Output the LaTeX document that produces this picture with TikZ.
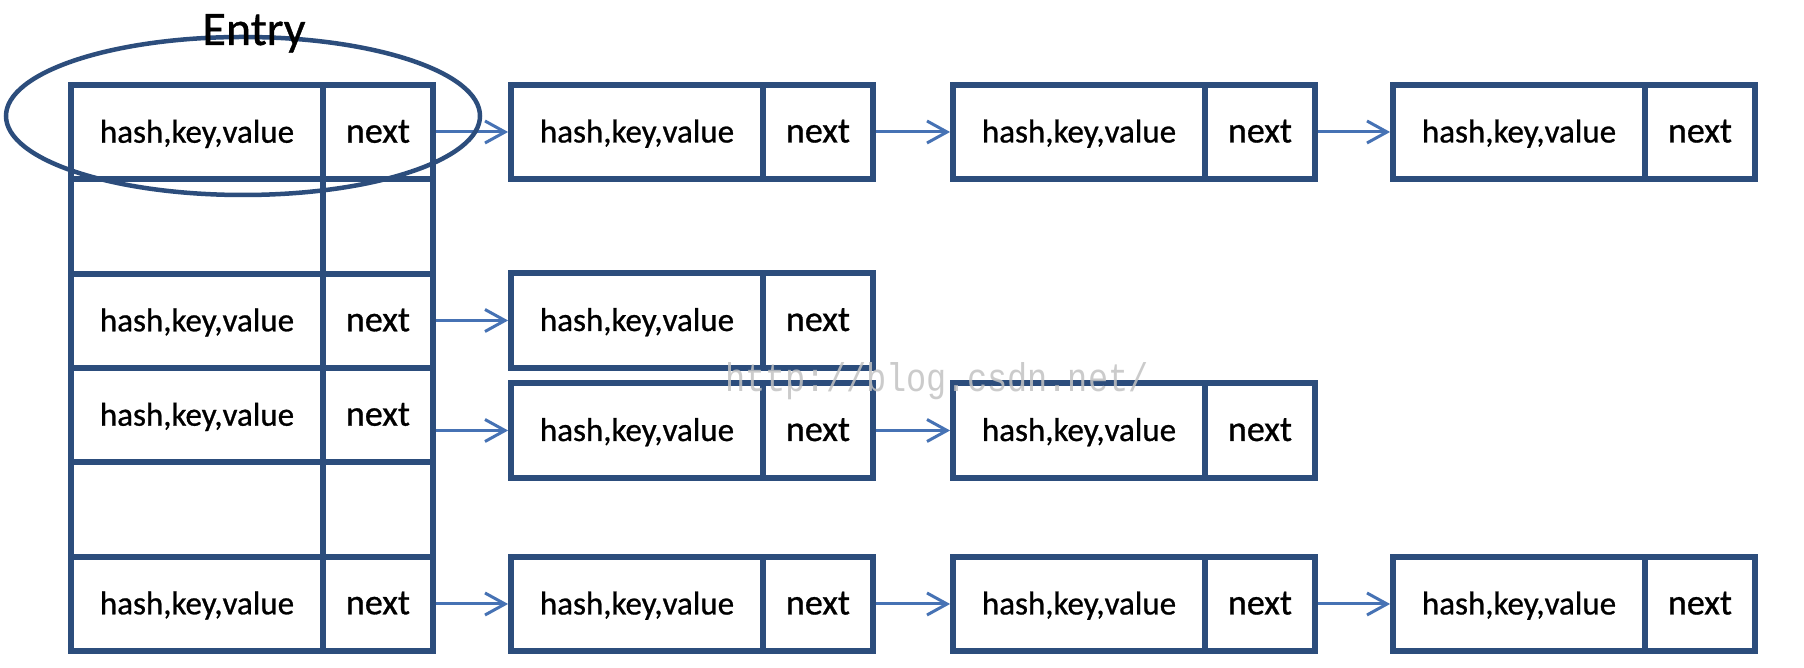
\documentclass[tikz,border=0pt]{standalone}
\usepackage{fontspec}
\setmainfont{Carlito}[FakeBold=0.8]
\newfontfamily\wmfont{Liberation Mono}
\usetikzlibrary{arrows.meta,shapes.geometric}
\definecolor{boxblue}{RGB}{44,77,124}
\definecolor{arrblue}{RGB}{70,114,180}
\definecolor{wmgray}{RGB}{195,195,195}
\begin{document}
\begin{tikzpicture}[x=1pt,y=1pt,
  cell/.style={draw=boxblue, line width=5.8pt, inner sep=0pt, minimum height=94.3pt, text height=21pt, text depth=0pt},
  kv/.style={cell, minimum width=252pt, font=\fontsize{33}{40}\selectfont},
  nx/.style={cell, minimum width=110pt, font=\fontsize{36}{43}\selectfont},
  arr/.style={draw=arrblue, line width=3pt, -{Straight Barb[length=20pt,width=22pt]}},
  ringstyle/.style={draw=boxblue, line width=4.5pt, ellipse, inner sep=0pt, minimum width=474pt, minimum height=158pt},
]
\fill[white] (0,0) rectangle (1804,668);
\useasboundingbox (0,0) rectangle (1804,668);

% table
\node[kv] (t1k) at (197,535.8) {hash,key,value};
\node[nx] (t1n) at (378,535.8) {next};
\node[kv] (t2k) at (197,441.5) {};
\node[nx] (t2n) at (378,441.5) {};
\node[kv] (t3k) at (197,347.2) {hash,key,value};
\node[nx] (t3n) at (378,347.2) {next};
\node[kv] (t4k) at (197,252.8) {hash,key,value};
\node[nx] (t4n) at (378,252.8) {next};
\node[kv] (t5k) at (197,158.5) {};
\node[nx] (t5n) at (378,158.5) {};
\node[kv] (t6k) at (197,64.2) {hash,key,value};
\node[nx] (t6n) at (378,64.2) {next};

% row 1 list
\node[kv] (r1ak) at (637,536) {hash,key,value};
\node[nx] (r1an) at (818,536) {next};
\node[kv] (r1bk) at (1079,536) {hash,key,value};
\node[nx] (r1bn) at (1260,536) {next};
\node[kv] (r1ck) at (1519,536) {hash,key,value};
\node[nx] (r1cn) at (1700,536) {next};

% row 3 list
\node[kv] (r3ak) at (637,347.5) {hash,key,value};
\node[nx] (r3an) at (818,347.5) {next};

% row 4 list
\node[kv] (r4ak) at (637,237.5) {hash,key,value};
\node[nx] (r4an) at (818,237.5) {next};
\node[kv] (r4bk) at (1079,237.5) {hash,key,value};
\node[nx] (r4bn) at (1260,237.5) {next};

% row 6 list
\node[kv] (r6ak) at (637,64) {hash,key,value};
\node[nx] (r6an) at (818,64) {next};
\node[kv] (r6bk) at (1079,64) {hash,key,value};
\node[nx] (r6bn) at (1260,64) {next};
\node[kv] (r6ck) at (1519,64) {hash,key,value};
\node[nx] (r6cn) at (1700,64) {next};

% arrows
\draw[arr] (r1ak.west -| t1n.east) -- (r1ak.west);
\draw[arr] (r1bk.west -| r1an.east) -- (r1bk.west);
\draw[arr] (r1ck.west -| r1bn.east) -- (r1ck.west);
\draw[arr] (r3ak.west -| t3n.east) -- (r3ak.west);
\draw[arr] (r4ak.west -| t4n.east) -- (r4ak.west);
\draw[arr] (r4bk.west -| r4an.east) -- (r4bk.west);
\draw[arr] (r6ak.west -| t6n.east) -- (r6ak.west);
\draw[arr] (r6bk.west -| r6an.east) -- (r6bk.west);
\draw[arr] (r6ck.west -| r6bn.east) -- (r6ck.west);

% entry ring
\node[ringstyle] (ring) at (243,552) {};
\node[anchor=base, inner sep=0pt, font=\fontsize{48}{56}\selectfont] (entry) at (254,623) {Entry};

% watermark
\node[anchor=base west, inner sep=0pt, text=wmgray, opacity=0.85] (wm) at (725,276) {\scalebox{0.84}[1]{\fontsize{40}{40}\wmfont http://blog.csdn.net/}};
\end{tikzpicture}
\end{document}
